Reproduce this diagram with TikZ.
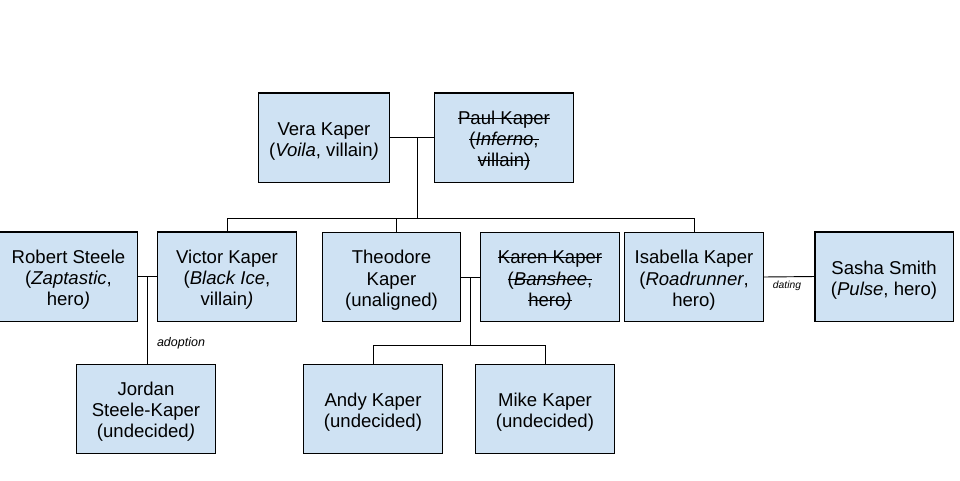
\documentclass[tikz,border=0pt]{standalone}
\usepackage{fontspec}
\setmainfont{Liberation Sans}
\usetikzlibrary{calc}

\definecolor{boxblue}{HTML}{CFE2F3}

% Struck-through text (for the deceased)
\newcommand{\strikeText}[1]{%
    \setbox0\hbox{#1}%
    \rlap{\rule[0.32em]{\wd0}{0.45pt}}\box0}
% First line of a box, set a little lower
\newcommand{\who}[1]{\rule{0pt}{12pt}#1}

\begin{document}
\begin{tikzpicture}[
    x=0.020833cm, y=-0.020833cm,
    person/.style={
        draw, fill=boxblue, line width=0.6pt,
        minimum width=2.875cm, minimum height=1.854cm,
        inner sep=0pt, align=center,
        font=\fontsize{11}{12.6}\selectfont
    },
    link/.style={line width=0.55pt},
    relation/.style={font=\fontsize{7.4}{8}\selectfont\itshape}
]

% Canvas
\useasboundingbox (0,0) rectangle (960,480);

% Parents
\node[person, minimum width=2.71cm] (vera) at (324,137.5)
    {\who{Vera Kaper}\\(\textit{Voila}, villain\textit{)}};
\node[person] (paul) at (504,137.5)
    {\who{\strikeText{Paul Kaper}}\\\strikeText{(\textit{Inferno},}\\\strikeText{villain)}};

% Children and partners
\node[person, minimum width=2.854cm] (robert) at (68.5,276.5)
    {\who{Robert Steele}\\(\textit{Zaptastic},\\hero\textit{)}};
\node[person] (victor) at (227,276.5)
    {\who{Victor Kaper}\\(\textit{Black Ice},\\villain\textit{)}};
\node[person, minimum width=2.854cm] (theodore) at (391.5,277)
    {\who{Theodore}\\Kaper\\(unaligned)};
\node[person] (karen) at (550,277)
    {\who{\strikeText{Karen Kaper}}\\\strikeText{(\textit{Banshee},}\\\strikeText{hero\textit{)}}};
\node[person] (isabella) at (694,277)
    {\who{Isabella Kaper}\\(\textit{Roadrunner},\\hero)};
\node[person] (sasha) at (884,276.5)
    {\who{Sasha Smith}\\(\textit{Pulse}, hero)};

% Grandchildren
\node[person] (jordan) at (146,408.5)
    {\who{Jordan}\\Steele-Kaper\\(undecided\textit{)}};
\node[person] (andy) at (373,408.5)
    {\who{Andy Kaper}\\(undecided)};
\node[person] (mike) at (545,408.5)
    {\who{Mike Kaper}\\(undecided)};

% Junctions
\coordinate (vpJoin) at (417,137.5);
\coordinate (kidsBar) at (417,219);
\coordinate (theoTop) at (396,219);
\coordinate (rvJoin) at (147,276.5);
\coordinate (tkJoin) at (470,277);
\coordinate (tkBar) at (470,346);

% Vera and Paul with their children
\draw[link] (vera.east) -- (paul.west);
\draw[link] (vpJoin) -- (kidsBar);
\draw[link] (victor.north) -- ++(0,-13) -| (isabella.north);
\draw[link] (theoTop) -- (theoTop |- theodore.north);

% Robert and Victor
\draw[link] (robert.east) -- (victor.west);
\draw[link] (rvJoin) -- (rvJoin |- jordan.north);
\node[relation] (adoptLabel) at (181,343) {adoption};

% Theodore and Karen
\draw[link] (theodore.east) -- (karen.west);
\draw[link] (tkJoin) -- (tkBar);
\draw[link] (andy.north) -- ++(0,-18) -| (mike.north);

% Isabella and Sasha
\draw[link] (isabella.east) -- (sasha.west);
\node[relation, font=\fontsize{6.1}{7}\selectfont\itshape] (datingLabel) at (787,286) {dating};

\end{tikzpicture}
\end{document}
